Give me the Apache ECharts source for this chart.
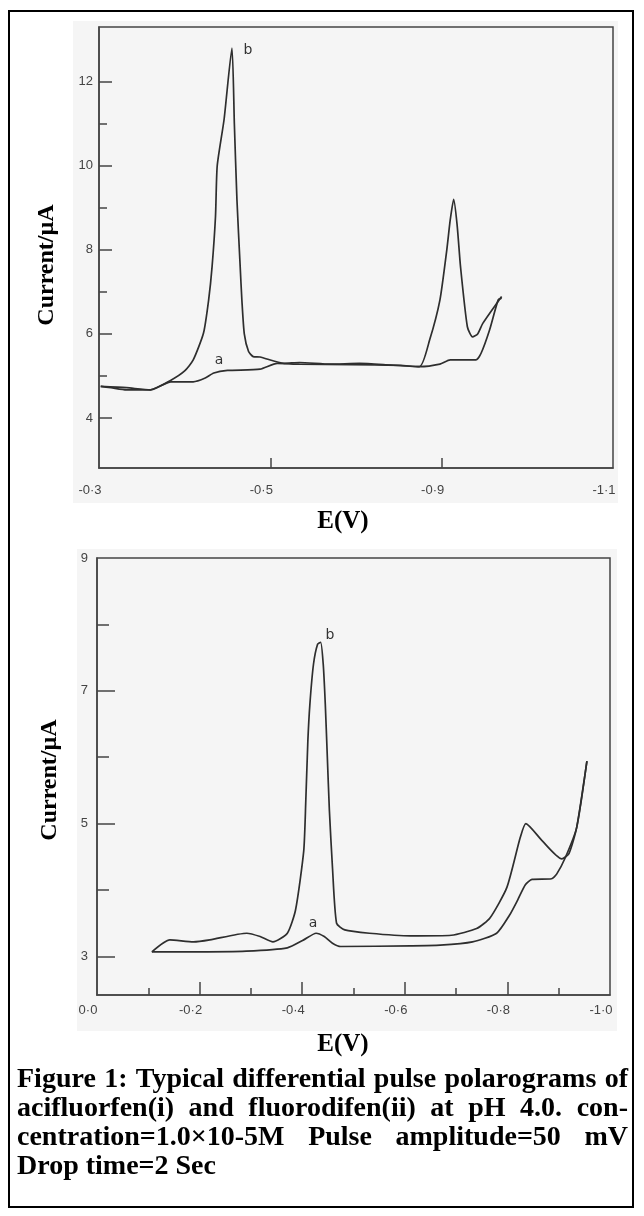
<!DOCTYPE html>
<html>
<head>
<meta charset="utf-8">
<script src="https://cdn.jsdelivr.net/npm/echarts@6/dist/echarts.min.js"></script>
<style>
  html, body { margin: 0; padding: 0; background: #fff; }
  #main { width: 644px; height: 1216px; }
</style>
</head>
<body>
<div id="main"></div>
<script>
// ---- top panel (i): x is in "division" units, 0..3, labelled as printed ----
const topXLabels = ["-0·3", "-0·5", "-0·9", "-1·1"];
const topYLabels = [4, 6, 8, 10, 12];
const topYMinor = [5, 7, 9, 11];

const topBx = [0.01, 0.07, 0.16, 0.30, 0.42, 0.50, 0.55, 0.61, 0.64, 0.66, 0.68, 0.69, 0.73, 0.776,
  0.79, 0.805, 0.824, 0.834, 0.848, 0.873, 0.90, 0.94, 1.08, 1.17, 1.35, 1.52, 1.70, 1.87,
  1.93, 1.99, 2.03, 2.05, 2.07, 2.09, 2.11, 2.15, 2.18, 2.21, 2.24, 2.35];
const topBy = [4.75, 4.72, 4.67, 4.67, 4.90, 5.12, 5.38, 6.02, 6.81, 7.60, 8.80, 10.0, 11.1, 12.8,
  11.0, 9.2, 7.6, 6.8, 6.0, 5.58, 5.46, 5.45, 5.30, 5.32, 5.28, 5.30, 5.26, 5.22,
  5.86, 6.81, 8.0, 8.71, 9.2, 8.6, 7.6, 6.17, 5.93, 6.0, 6.25, 6.89];

const topAx = [0.01, 0.16, 0.30, 0.42, 0.55, 0.62, 0.67, 0.75, 0.94, 1.04, 1.17, 1.47, 1.76, 1.87,
  1.99, 2.05, 2.20, 2.23, 2.28, 2.33, 2.35];
const topAy = [4.75, 4.72, 4.67, 4.86, 4.86, 4.95, 5.07, 5.13, 5.16, 5.30, 5.28, 5.27, 5.25, 5.22,
  5.28, 5.38, 5.38, 5.54, 6.10, 6.81, 6.85];

// ---- bottom panel (ii): x is E in volts ----
const botXLabels = [0, -0.2, -0.4, -0.6, -0.8, -1.0];
const botXMajor = [-0.2, -0.4, -0.6, -0.8];
const botXMinor = [-0.1, -0.3, -0.5, -0.7, -0.9];
const botYLabels = [3, 5, 7, 9];
const botYMajor = [3, 5, 7];
const botYMinor = [4, 6, 8];

const botBx = [-0.107, -0.142, -0.188, -0.220, -0.292, -0.318, -0.343, -0.371, -0.387, -0.403,
  -0.407, -0.411, -0.415, -0.422, -0.430, -0.436, -0.441, -0.445, -0.449, -0.453, -0.459, -0.467,
  -0.483, -0.531, -0.611, -0.691, -0.740, -0.766, -0.799, -0.825, -0.836, -0.868, -0.906,
  -0.920, -0.935, -0.955];
const botBy = [3.07, 3.25, 3.22, 3.25, 3.35, 3.30, 3.22, 3.35, 3.70, 4.59,
  5.34, 6.24, 6.8, 7.4, 7.7, 7.73, 7.4, 6.8, 6.0, 5.2, 4.34, 3.50,
  3.40, 3.35, 3.31, 3.32, 3.42, 3.58, 4.04, 4.79, 5.0, 4.74, 4.47,
  4.55, 4.94, 5.94];

const botAx = [-0.107, -0.20, -0.291, -0.371, -0.403, -0.427, -0.443, -0.459, -0.475, -0.611,
  -0.669, -0.732, -0.779, -0.804, -0.82, -0.835, -0.848, -0.886, -0.896, -0.913, -0.935, -0.955];
const botAy = [3.07, 3.07, 3.08, 3.13, 3.25, 3.35, 3.30, 3.20, 3.15, 3.16,
  3.17, 3.22, 3.35, 3.62, 3.85, 4.08, 4.16, 4.17, 4.24, 4.49, 4.94, 5.94];

const captionLines = [
  "Figure 1: Typical differential pulse polarograms of",
  "acifluorfen(i) and fluorodifen(ii) at pH 4.0. con-",
  "centration=1.0×10-5M Pulse amplitude=50 mV",
  "Drop time=2 Sec"
];

const ink = "#2e2e2e";
const tickFont = { color: "#444", fontSize: 13, fontFamily: "Liberation Sans" };

function zip(xs, ys) {
  return xs.map((x, i) => [x, ys[i]]);
}
function dotFmt(v) {
  return v === 0 ? "0·0" : v.toFixed(1).replace(".", "·");
}

// justified caption, word by word
const capFont = "bold 28px 'Liberation Serif'";
const capLeft = 17, capRight = 628;
const ctx = document.createElement("canvas").getContext("2d");
ctx.font = capFont;
function captionWords(text, y, justify) {
  const words = text.split(" ");
  const widths = words.map(w => ctx.measureText(w).width);
  const total = widths.reduce((a, b) => a + b, 0);
  const gap = justify ? (capRight - capLeft - total) / (words.length - 1) : ctx.measureText(" ").width;
  let x = capLeft;
  return words.map((w, i) => {
    const el = {
      type: "text", x: x, y: y,
      style: { text: w, font: capFont, fill: "#000", textAlign: "left", textVerticalAlign: "middle" }
    };
    x += widths[i] + gap;
    return el;
  });
}

function markLabel(coord, txt) {
  return {
    symbol: "circle", symbolSize: 1, silent: true,
    itemStyle: { color: "rgba(0,0,0,0)" },
    label: { show: true, position: "inside", formatter: txt, color: "#333", fontSize: 14, fontFamily: "DejaVu Sans" },
    data: [{ coord: coord }]
  };
}

function lineSeries(name, xi, data, mark) {
  return {
    name: name, type: "line", xAxisIndex: xi, yAxisIndex: xi * 2,
    data: data, showSymbol: false, smooth: 0.2,
    lineStyle: { color: ink, width: 1.7 },
    markPoint: mark
  };
}

let graphics = [
  // scanned image backgrounds
  { type: "rect", z: -10, shape: { x: 73, y: 21, width: 545, height: 482 }, style: { fill: "#f5f5f5" } },
  { type: "rect", z: -10, shape: { x: 77, y: 549, width: 540, height: 482 }, style: { fill: "#f5f5f5" } },
  // outer box
  { type: "rect", shape: { x: 9, y: 11, width: 624, height: 1196 }, style: { fill: "none", stroke: "#000", lineWidth: 2 } },
  // axis titles
  { type: "text", x: 47, y: 265, rotation: Math.PI / 2,
    style: { text: "Current/µA", font: "bold 24px 'Liberation Serif'", fill: "#000", textAlign: "center", textVerticalAlign: "middle" } },
  { type: "text", x: 50, y: 780, rotation: Math.PI / 2,
    style: { text: "Current/µA", font: "bold 24px 'Liberation Serif'", fill: "#000", textAlign: "center", textVerticalAlign: "middle" } },
  { type: "text", x: 343, y: 522,
    style: { text: "E(V)", font: "bold 25px 'Liberation Serif'", fill: "#000", textAlign: "center", textVerticalAlign: "middle" } },
  { type: "text", x: 343, y: 1045,
    style: { text: "E(V)", font: "bold 25px 'Liberation Serif'", fill: "#000", textAlign: "center", textVerticalAlign: "middle" } }
];
graphics = graphics
  .concat(captionWords(captionLines[0], 1080, true))
  .concat(captionWords(captionLines[1], 1109, true))
  .concat(captionWords(captionLines[2], 1138, true))
  .concat(captionWords(captionLines[3], 1167, false));

const axisLine = { show: true, lineStyle: { color: "#444", width: 1.5 } };

const option = {
  backgroundColor: "#fff",
  animation: false,
  grid: [
    { left: 99, right: 31, top: 27, height: 441, show: true, borderColor: "#444", borderWidth: 1.5 },
    { left: 97, right: 34, top: 558, height: 437, show: true, borderColor: "#444", borderWidth: 1.5 }
  ],
  xAxis: [
    {
      gridIndex: 0, type: "value", min: 0, max: 3,
      axisLine: axisLine, splitLine: { show: false },
      axisTick: { inside: true, length: 10, customValues: [1, 2], lineStyle: { color: "#444", width: 1.5 } },
      axisLabel: Object.assign({ customValues: [0, 1, 2, 3], margin: 16, padding: [0, 18, 0, 0],
        formatter: v => topXLabels[Math.round(v)] }, tickFont)
    },
    {
      gridIndex: 1, type: "value", min: -1, max: 0, inverse: true,
      axisLine: axisLine, splitLine: { show: false },
      axisTick: { inside: true, length: 13, customValues: botXMajor, lineStyle: { color: "#444", width: 1.5 } },
      axisLabel: Object.assign({ customValues: botXLabels, margin: 9, padding: [0, 18, 0, 0],
        formatter: dotFmt }, tickFont)
    },
    {
      // minor ticks of bottom x axis
      gridIndex: 1, type: "value", min: -1, max: 0, inverse: true, position: "bottom",
      axisLine: { show: false }, splitLine: { show: false }, axisLabel: { show: false },
      axisTick: { inside: true, length: 7, customValues: botXMinor, lineStyle: { color: "#444", width: 1.5 } }
    }
  ],
  yAxis: [
    {
      gridIndex: 0, type: "value", min: 2.81, max: 13.3, position: "left",
      axisLine: axisLine, splitLine: { show: false },
      axisTick: { inside: true, length: 13, customValues: topYLabels, lineStyle: { color: "#444", width: 1.5 } },
      axisLabel: Object.assign({ customValues: topYLabels, margin: 6 }, tickFont)
    },
    {
      gridIndex: 0, type: "value", min: 2.81, max: 13.3, position: "left",
      axisLine: { show: false }, splitLine: { show: false }, axisLabel: { show: false },
      axisTick: { inside: true, length: 8, customValues: topYMinor, lineStyle: { color: "#444", width: 1.5 } }
    },
    {
      gridIndex: 1, type: "value", min: 2.42, max: 9, position: "left",
      axisLine: axisLine, splitLine: { show: false },
      axisTick: { inside: true, length: 18, customValues: botYMajor, lineStyle: { color: "#444", width: 1.5 } },
      axisLabel: Object.assign({ customValues: botYLabels, margin: 9 }, tickFont)
    },
    {
      gridIndex: 1, type: "value", min: 2.42, max: 9, position: "left",
      axisLine: { show: false }, splitLine: { show: false }, axisLabel: { show: false },
      axisTick: { inside: true, length: 12, customValues: botYMinor, lineStyle: { color: "#444", width: 1.5 } }
    }
  ],
  graphic: graphics,
  series: [
    lineSeries("i-b", 0, zip(topBx, topBy), markLabel([0.87, 12.74], "b")),
    lineSeries("i-a", 0, zip(topAx, topAy), markLabel([0.70, 5.36], "a")),
    lineSeries("ii-b", 1, zip(botBx, botBy), markLabel([-0.454, 7.84], "b")),
    lineSeries("ii-a", 1, zip(botAx, botAy), markLabel([-0.421, 3.5], "a"))
  ]
};

const chart = echarts.init(document.getElementById("main"));
chart.setOption(option);
</script>
</body>
</html>
